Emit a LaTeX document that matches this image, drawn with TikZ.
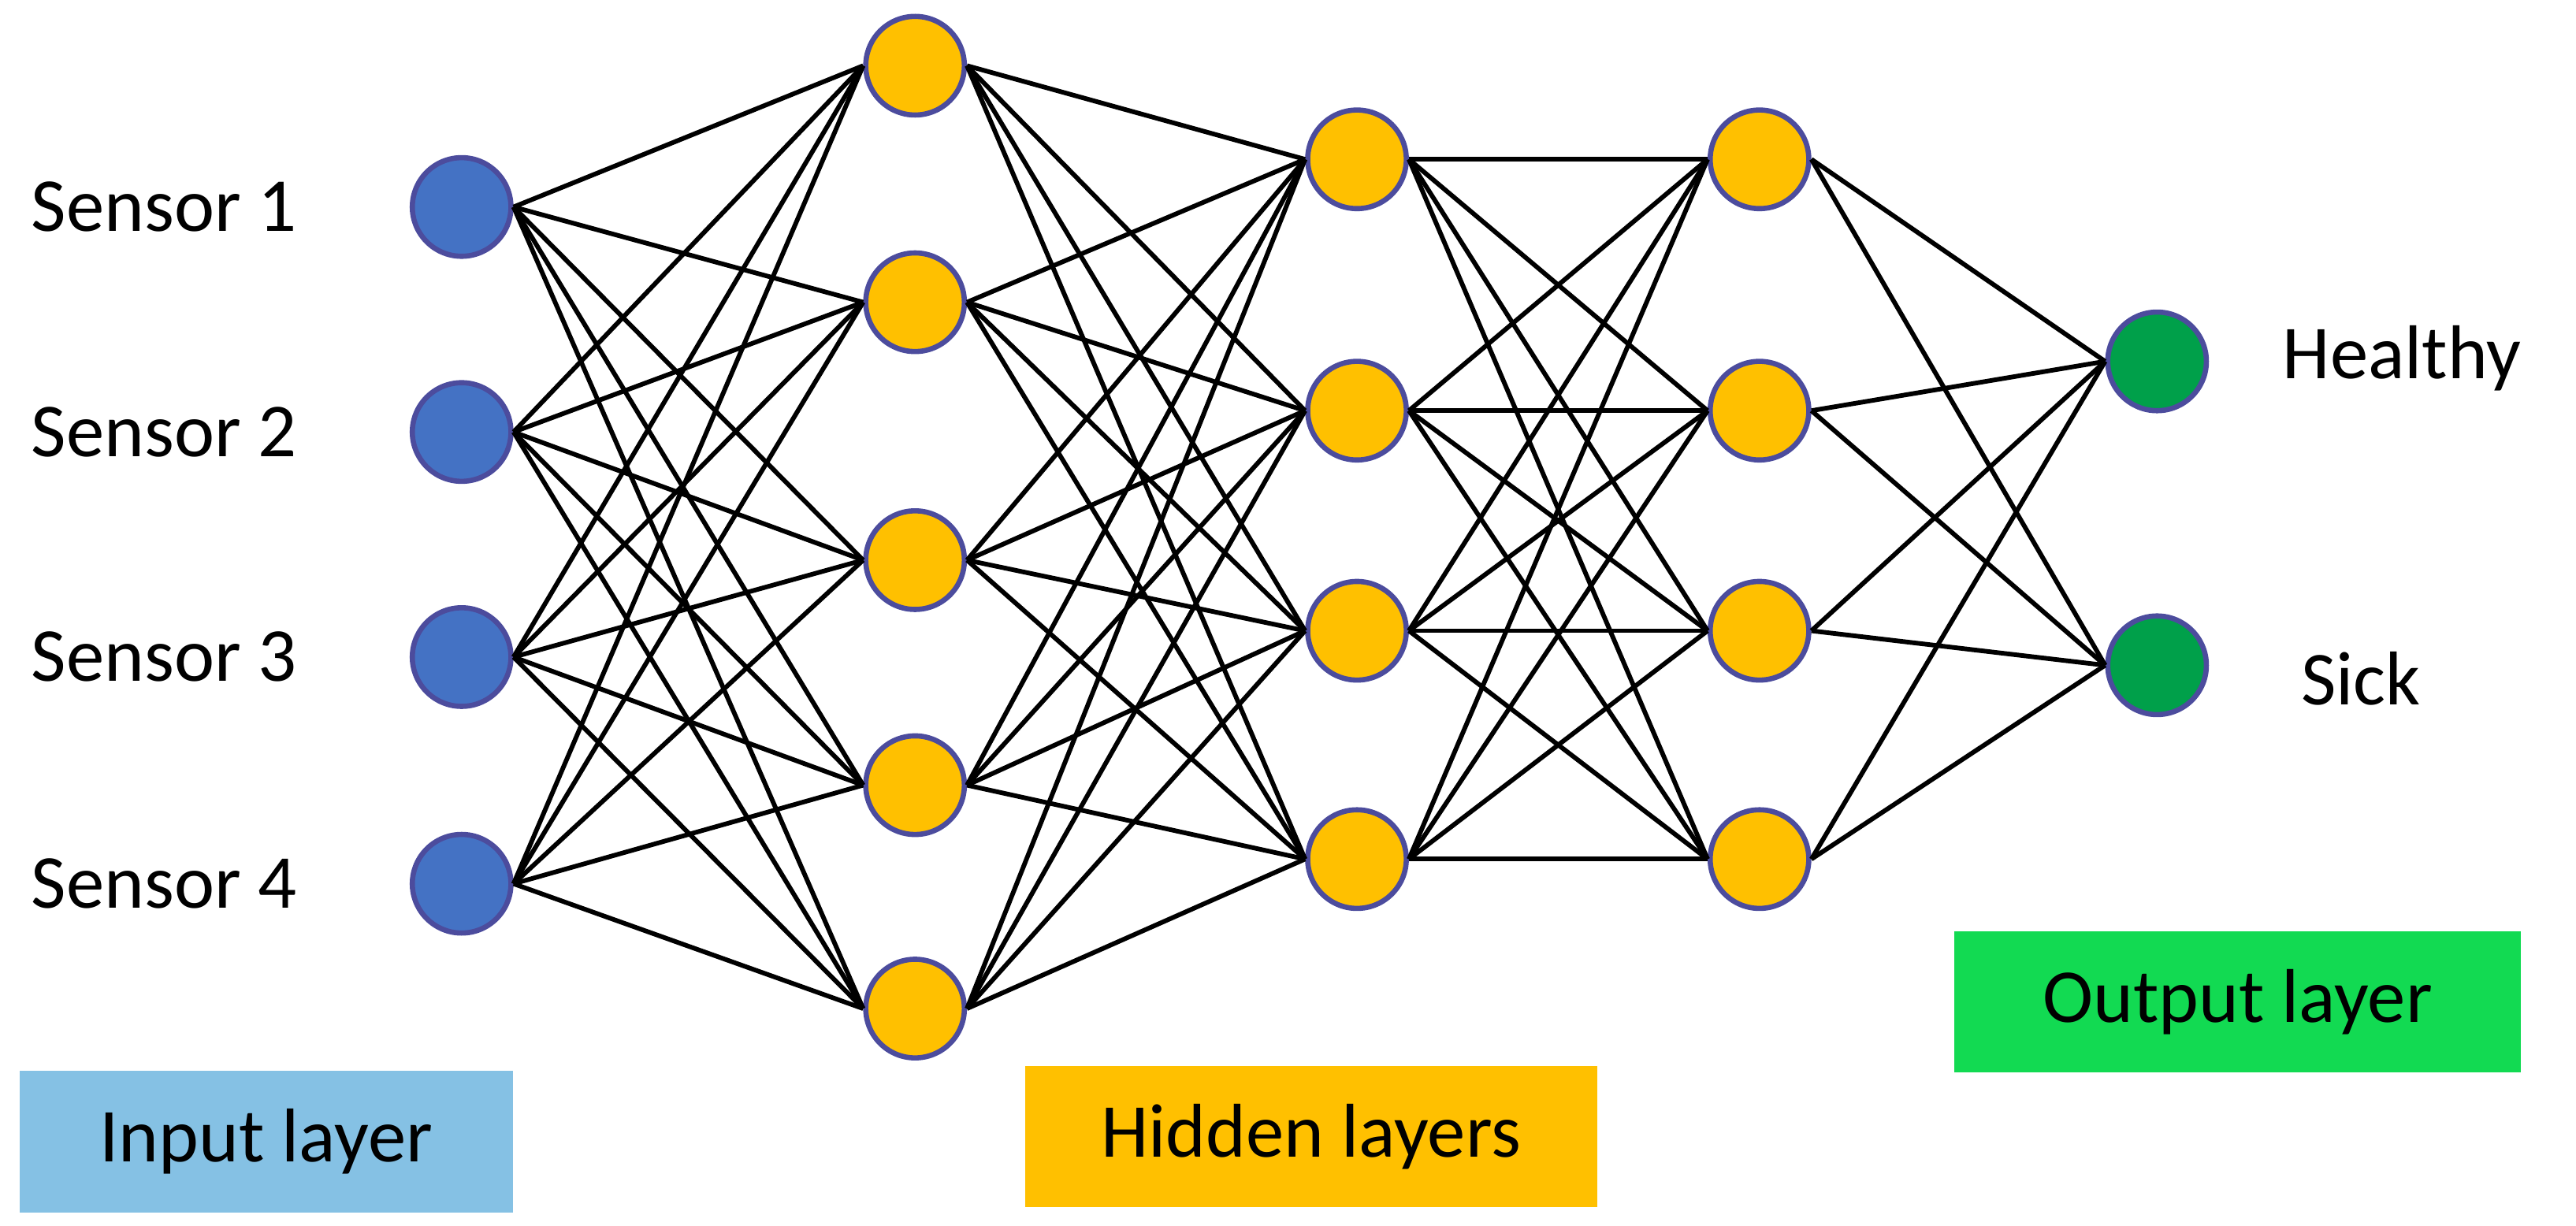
\documentclass[tikz,border=0pt]{standalone}
\usepackage{fontspec}
\setmainfont{Carlito}
\begin{document}
\begin{tikzpicture}[x=0.01cm,y=-0.01cm,
  neu/.style={circle,draw=blue!45!black!70,line width=0.9pt,minimum size=0.6cm,inner sep=0pt},
  inp/.style={neu,fill=inblue},
  hid/.style={neu,fill=hidor},
  outn/.style={neu,fill=outgr},
  lab/.style={font=\fontsize{13.2pt}{15pt}\selectfont},
  edge/.style={line width=0.8pt,black},
  leg/.style={lab,minimum height=0.86cm,inner sep=0pt}]
\definecolor{inblue}{HTML}{4472C4}
\definecolor{hidor}{HTML}{FFC000}
\definecolor{outgr}{HTML}{00A04A}
\definecolor{legblue}{HTML}{85C1E4}
\definecolor{leggreen}{HTML}{12DA52}
\useasboundingbox (0,0) rectangle (1568,746);
\foreach \y [count=\i] in {126,263,400,538} \node[inp] (i\i) at (281,\y) {};
\foreach \y [count=\i] in {40,184,341,478,614} \node[hid] (a\i) at (557,\y) {};
\foreach \y [count=\i] in {97,250,384,523} \node[hid] (b\i) at (826,\y) {};
\foreach \y [count=\i] in {97,250,384,523} \node[hid] (c\i) at (1071,\y) {};
\foreach \y [count=\i] in {220,405} \node[outn] (o\i) at (1313,\y) {};
\begin{scope}[on background layer/.style={}]
\foreach \s in {1,...,4} \foreach \t in {1,...,5} \draw[edge] (i\s.east) -- (a\t.west);
\foreach \s in {1,...,5} \foreach \t in {1,...,4} \draw[edge] (a\s.east) -- (b\t.west);
\foreach \s in {1,...,4} \foreach \t in {1,...,4} \draw[edge] (b\s.east) -- (c\t.west);
\foreach \s in {1,...,4} \foreach \t in {1,2} \draw[edge] (c\s.east) -- (o\t.west);
\end{scope}
\foreach \y [count=\i] in {126,263,400,538} \node[lab] (s\i) at (100,\y) {Sensor \i};
\node[lab] (h) at (1462,218) {Healthy};
\node[lab] (sk) at (1437,413) {Sick};
\node[leg,fill=legblue,minimum width=3cm] (li) at (162,695) {Input layer};
\node[leg,fill=hidor,minimum width=3.48cm] (lh) at (798,692) {Hidden layers};
\node[leg,fill=leggreen,minimum width=3.45cm] (lo) at (1362,610) {Output layer};
\end{tikzpicture}
\end{document}
